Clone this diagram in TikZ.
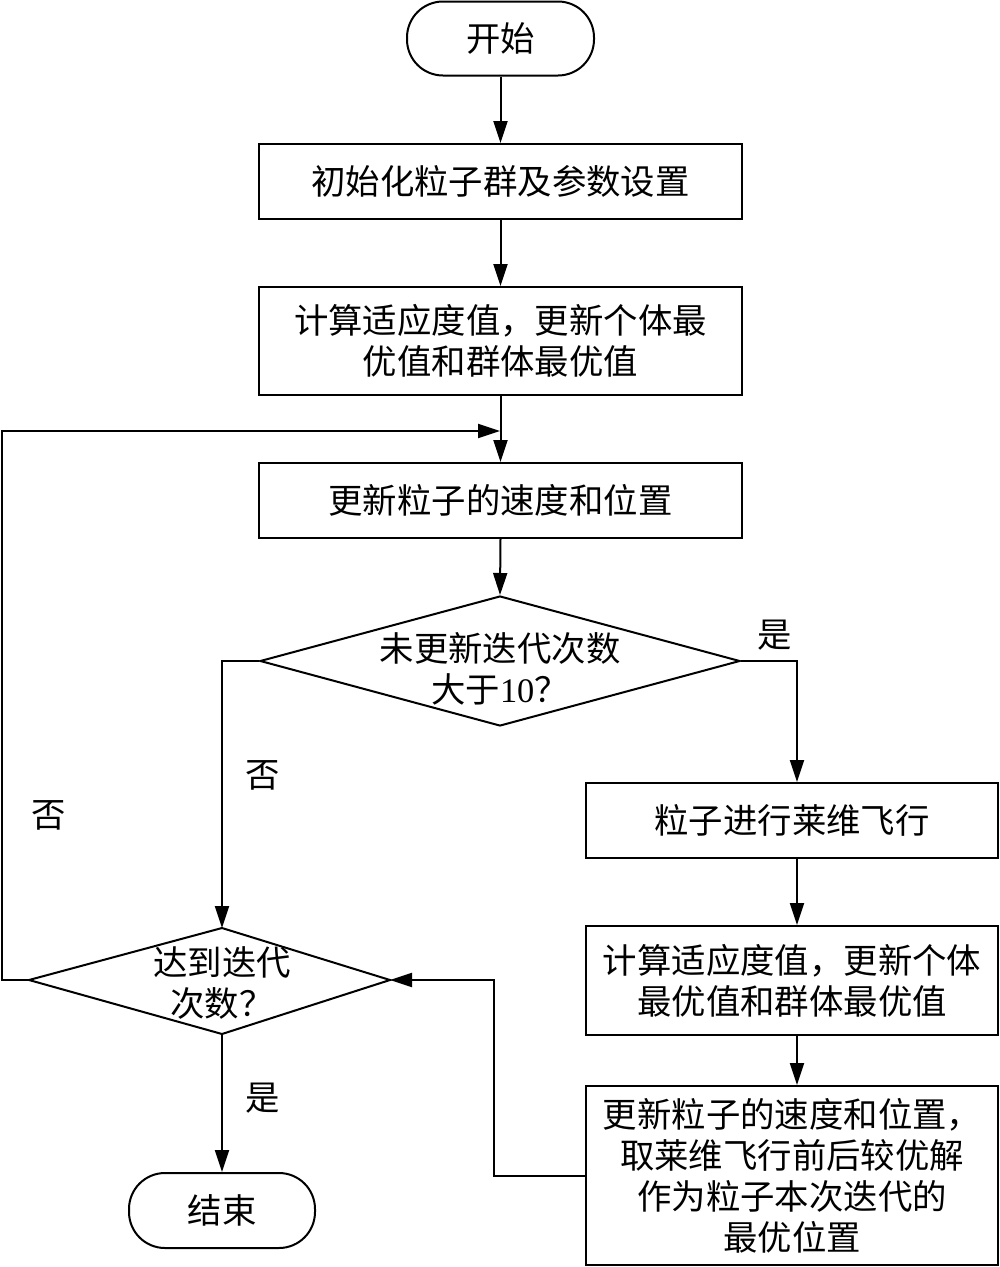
\documentclass[tikz,border=0pt]{standalone}
\usepackage{fontspec}
\setmainfont{Noto Sans CJK SC}
\newfontfamily\latnum{Liberation Serif}
\usetikzlibrary{arrows.meta,shapes.geometric}
\tikzset{
  txt/.style={font={\fontsize{34.4}{41}\selectfont}},
  proc/.style={draw, line width=2pt, rectangle, inner sep=0pt, align=center, txt},
  term/.style={proc, rounded corners=36pt, minimum width=187pt, minimum height=74pt},
  dia/.style={draw, line width=2pt, shape=diamond, inner sep=0pt},
  lbl/.style={inner sep=0pt, align=center, txt},
  arr/.style={line width=2pt, -{Triangle[length=22pt,width=14pt]}},
  conn/.style={line width=2pt}
}
\begin{document}
\begin{tikzpicture}[x=1pt,y=-1pt]
\useasboundingbox (0,0) rectangle (1000,1267);
% nodes
\node[term] (start) at (500.5,38.5) {开始};
\node[proc, minimum width=483pt, minimum height=75pt] (b1) at (500.5,181.5) {初始化粒子群及参数设置};
\node[proc, minimum width=483pt, minimum height=108pt] (b2) at (500.5,341) {计算适应度值，更新个体最\\优值和群体最优值};
\node[proc, minimum width=483pt, minimum height=75pt] (b3) at (500.5,500.5) {更新粒子的速度和位置};
\node[dia, minimum width=480pt, minimum height=130pt] (d1) at (500,661) {};
\node[lbl] (d1t) at (500,669) {未更新迭代次数\\大于{\latnum 10}？};
\node[proc, minimum width=412pt, minimum height=75pt] (b4) at (792,820.5) {粒子进行莱维飞行};
\node[proc, minimum width=412pt, minimum height=109pt] (b5) at (792,980.5) {计算适应度值，更新个体\\最优值和群体最优值};
\node[proc, minimum width=412pt, minimum height=179pt] (b6) at (792,1175.5) {更新粒子的速度和位置，\\取莱维飞行前后较优解\\作为粒子本次迭代的\\最优位置};
% diamond 2
\coordinate (d2n) at (222,928);
\coordinate (d2e) at (390,980);
\coordinate (d2s) at (222,1034);
\coordinate (d2w) at (29,980);
\draw[conn, line join=miter] (d2n) -- (d2e) -- (d2s) -- (d2w) -- cycle;
\node[lbl] (d2t) at (222,983) {达到迭代\\次数？};
\node[term, minimum width=186pt, minimum height=75pt] (end) at (222,1210.5) {结束};
% helper coordinates
\coordinate (merge) at (500,431);
\coordinate (rx) at (797,0);
\coordinate (lx) at (2,0);
\coordinate (bx) at (494,0);
% labels
\node[lbl] (yes1) at (775,635) {是};
\node[lbl] (no1) at (263,775) {否};
\node[lbl] (no2) at (49,815) {否};
\node[lbl] (yes2) at (263,1098) {是};
% connectors
\draw[arr] (start.south) -- (b1.north);
\draw[arr] (b1.south) -- (b2.north);
\draw[arr] (b2.south) -- (b3.north);
\draw[arr] (d2w) -- (d2w -| lx) |- (merge);
\draw[arr] (b3.south) -- (d1.north);
\draw[arr] (d1.east) -| (b4.north -| rx);
\draw[arr] (b4.south -| rx) -- (b5.north -| rx);
\draw[arr] (b5.south -| rx) -- (b6.north -| rx);
\draw[arr] (b6.west) -- (b6.west -| bx) |- (d2e);
\draw[arr] (d1.west) -| (d2n);
\draw[arr] (d2s) -- (end.north);
\end{tikzpicture}
\end{document}
